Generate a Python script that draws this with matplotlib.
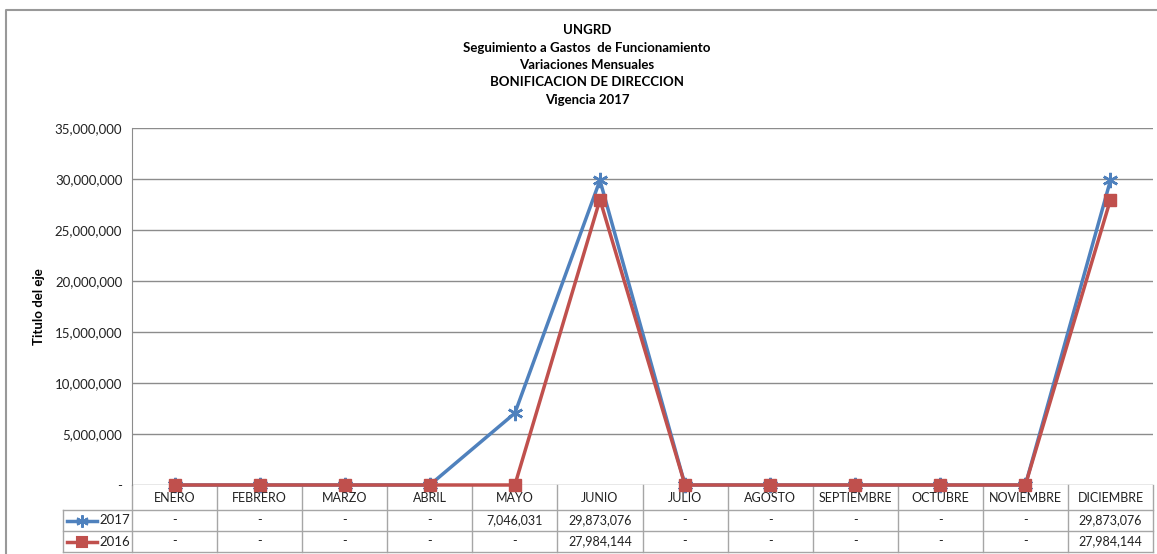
import matplotlib.pyplot as plt
from matplotlib.lines import Line2D
from matplotlib.ticker import FuncFormatter
import matplotlib.transforms as mtransforms

plt.rcParams['font.family'] = ['Lato', 'DejaVu Sans']

meses = ["ENERO", "FEBRERO", "MARZO", "ABRIL", "MAYO", "JUNIO", "JULIO",
         "AGOSTO", "SEPTIEMBRE", "OCTUBRE", "NOVIEMBRE", "DICIEMBRE"]
v2017 = [0, 0, 0, 0, 7046031, 29873076, 0, 0, 0, 0, 0, 29873076]
v2016 = [0, 0, 0, 0, 0, 27984144, 0, 0, 0, 0, 0, 27984144]

titulo = ("UNGRD\nSeguimiento a Gastos  de Funcionamiento\nVariaciones Mensuales\n"
          "BONIFICACION DE DIRECCION\nVigencia 2017")

azul = "#4F81BD"
rojo = "#C0504D"
grid_c = "#8C8C8C"
tab_c = "#A6A6A6"

W, H = 1157, 554
fig = plt.figure(figsize=(W / 100, H / 100), dpi=100)
ax = fig.add_axes([132 / W, 1 - 485 / H, (1153 - 132) / W, (485 - 128) / H])

x = list(range(len(meses)))
ax.plot(x, v2017, color=azul, lw=2.5, marker=(6, 2, 0), ms=11, mew=1.8,
        clip_on=False, zorder=3)
ax.plot(x, v2016, color=rojo, lw=2.5, marker='s', ms=9, clip_on=False, zorder=4)

ax.set_xlim(-0.5, 11.5)
ax.set_ylim(0, 35000000)
ax.set_yticks(range(0, 35000001, 5000000))
ax.yaxis.set_major_formatter(FuncFormatter(lambda v, p: "-" if v == 0 else f"{v:,.0f}"))
ax.tick_params(axis='y', length=0, pad=7, labelsize=9.5, labelcolor="#222222")
ax.tick_params(axis='x', length=0, labelbottom=False)
ax.grid(axis='y', color=grid_c, lw=1)
ax.set_axisbelow(True)
for s in ["top", "right", "bottom"]:
    ax.spines[s].set_visible(False)
ax.spines["left"].set_color(grid_c)
ax.set_ylabel("Titulo del eje", fontsize=9.5, fontweight='bold', labelpad=7)

fig.text(587 / W, 1 - 65 / H, titulo, ha='center', va='center', fontsize=9.5,
         fontweight='bold', linespacing=1.55)

# chart border
fig.add_artist(Line2D([6 / W, 6 / W, 1], [0, 1 - 10 / H, 1 - 10 / H],
                      transform=fig.transFigure, color="#999999", lw=1.5))

# data table below the plot
tr = mtransforms.blended_transform_factory(ax.transData, fig.transFigure)

def fy(py):
    return 1 - py / H

rows_y = [485, 510, 531, 552]
for py in rows_y[1:]:
    fig.add_artist(Line2D([63 / W, 1153 / W], [fy(py), fy(py)],
                          transform=fig.transFigure, color=tab_c, lw=1))
fig.add_artist(Line2D([63 / W, 63 / W], [fy(510), fy(552)],
                      transform=fig.transFigure, color=tab_c, lw=1))
for i in range(len(meses) + 1):
    ax.add_artist(Line2D([i - 0.5, i - 0.5], [fy(485), fy(552)], transform=tr,
                         color=tab_c, lw=1, clip_on=False))

for i, m in enumerate(meses):
    ax.text(i, fy(497.5), m, transform=tr, ha='center', va='center', fontsize=9,
            color="#222222")
    ax.text(i, fy(520.5), "-" if v2017[i] == 0 else f"{v2017[i]:,}", transform=tr,
            ha='center', va='center', fontsize=9, color="#222222")
    ax.text(i, fy(541.5), "-" if v2016[i] == 0 else f"{v2016[i]:,}", transform=tr,
            ha='center', va='center', fontsize=9, color="#222222")

# legend keys in table
for py, col, mk, ms, lab in [(520.5, azul, (6, 2, 0), 9, "2017"),
                            (541.5, rojo, 's', 7, "2016")]:
    fig.add_artist(Line2D([67 / W, 97 / W], [fy(py), fy(py)], transform=fig.transFigure,
                          color=col, lw=2.5))
    fig.add_artist(Line2D([82 / W], [fy(py)], transform=fig.transFigure, color=col,
                          marker=mk, ms=ms, mew=1.5, lw=0))
    fig.text(99 / W, fy(py), lab, ha='left', va='center', fontsize=9.5, color="#222222")

fig.savefig("out.png", dpi=100)
